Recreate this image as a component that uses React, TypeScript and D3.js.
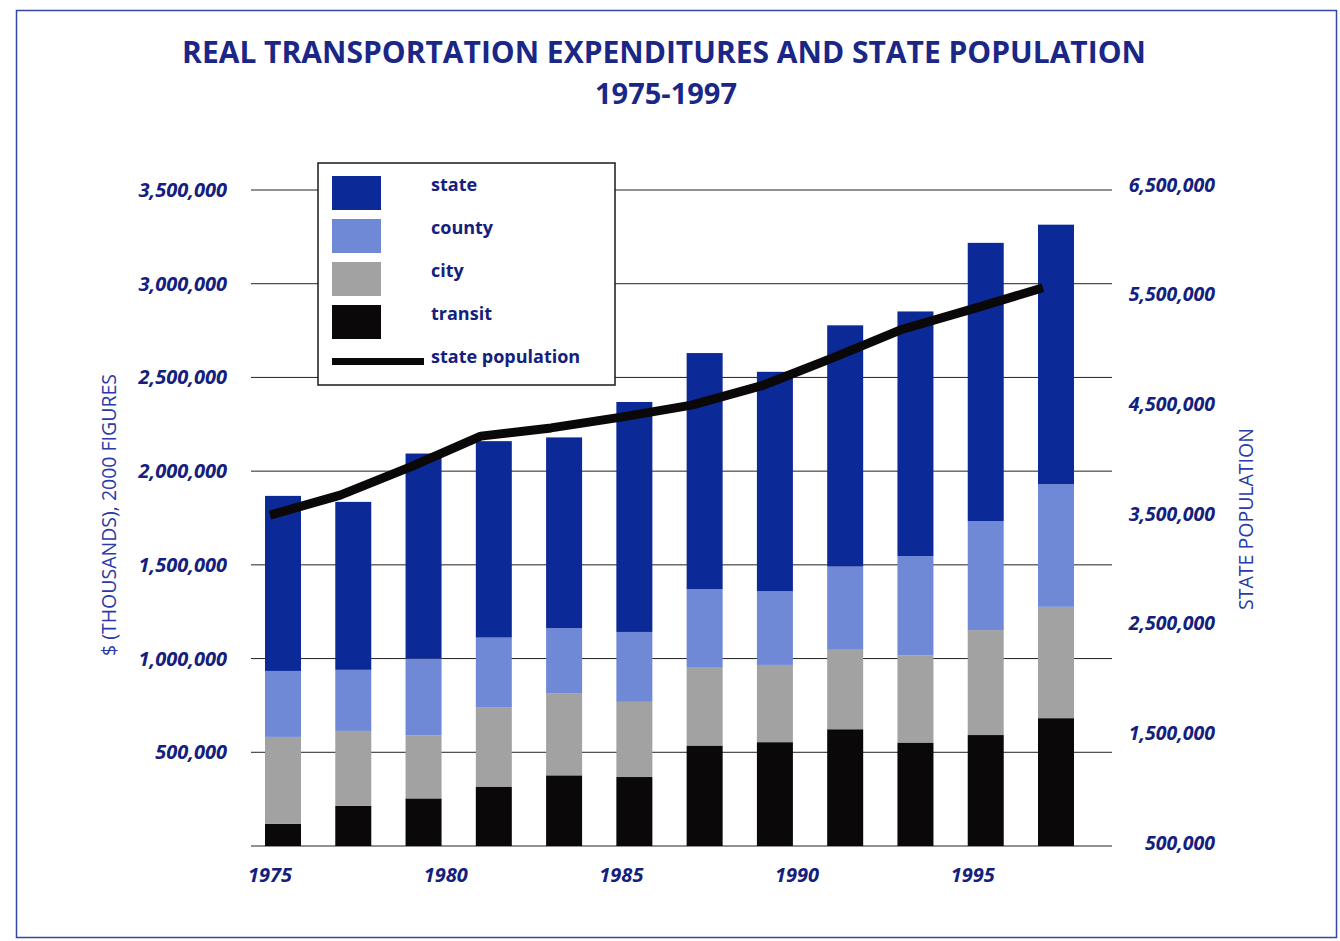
import React, { useEffect, useRef } from 'react';
import * as d3 from 'd3';

// expenditure data, $ thousands (2000 figures)
const years = [1975, 1977, 1979, 1981, 1983, 1985, 1987, 1989, 1991, 1993, 1995, 1997];
const transit = [119000, 214000, 254000, 317000, 377000, 368000, 536000, 554000, 623000, 552000, 592000, 682000];
const city = [463000, 400000, 337000, 421000, 436000, 401000, 415000, 412000, 424000, 464000, 560000, 594000];
const county = [352000, 326000, 409000, 374000, 349000, 373000, 419000, 393000, 444000, 531000, 581000, 654000];
const state = [934000, 896000, 1094000, 1048000, 1018000, 1227000, 1260000, 1171000, 1287000, 1305000, 1485000, 1385000];
const population = [3490000, 3672000, 3930000, 4210000, 4285000, 4383000, 4493000, 4670000, 4921000, 5185000, 5370000, 5563000];

const leftTicks = [0, 500000, 1000000, 1500000, 2000000, 2500000, 3000000, 3500000];
const rightTicks = [500000, 1500000, 2500000, 3500000, 4500000, 5500000, 6500000];
const yearTicks = [1975, 1980, 1985, 1990, 1995];

const seriesKeys = ['transit', 'city', 'county', 'state'];
const legendItems = ['state', 'county', 'city', 'transit'];
const colors: Record<string, string> = {
  state: '#0b2a98',
  county: '#7089d6',
  city: '#a2a2a2',
  transit: '#0a0808',
};

const NAVY = '#14207e';
const FONT = "'Open Sans', sans-serif";

export default function App() {
  const svgRef = useRef<SVGSVGElement>(null);

  useEffect(() => {
    if (!svgRef.current) return;
    const svg = d3.select(svgRef.current);
    svg.selectAll('*').remove();

    const x = d3.scaleLinear().domain([1975, 1997]).range([270, 1043]);
    const y = d3.scaleLinear().domain([0, 3500000]).range([846, 190]);
    const yPop = d3.scaleLinear().domain([500000, 6500000]).range([843, 185]);
    const barW = 36;
    const barShift = 13;
    const fmt = d3.format(',');

    // frame
    svg.append('rect')
      .attr('x', 16.5).attr('y', 10.5)
      .attr('width', 1320).attr('height', 927)
      .attr('fill', 'white')
      .attr('stroke', '#3646a6')
      .attr('stroke-width', 1.5);

    // title
    svg.append('text')
      .attr('x', 664).attr('y', 63)
      .attr('text-anchor', 'middle')
      .attr('font-family', FONT).attr('font-weight', 700)
      .attr('font-size', 30).attr('fill', '#1a2786')
      .text('REAL TRANSPORTATION EXPENDITURES AND STATE POPULATION');
    svg.append('text')
      .attr('x', 666).attr('y', 104)
      .attr('text-anchor', 'middle')
      .attr('font-family', FONT).attr('font-weight', 700)
      .attr('font-size', 29).attr('fill', '#1a2786')
      .text('1975-1997');

    // gridlines
    svg.append('g').selectAll('line')
      .data(leftTicks)
      .enter().append('line')
      .attr('x1', 251).attr('x2', 1112)
      .attr('y1', d => y(d)).attr('y2', d => y(d))
      .attr('stroke', '#222').attr('stroke-width', 1);

    // left tick labels
    svg.append('g').selectAll('text')
      .data(leftTicks.filter(d => d > 0))
      .enter().append('text')
      .attr('x', 227).attr('y', d => y(d)).attr('dy', '0.35em')
      .attr('text-anchor', 'end')
      .attr('font-family', FONT).attr('font-weight', 700).attr('font-style', 'italic')
      .attr('font-size', 20).attr('fill', NAVY)
      .text(d => fmt(d));

    // right tick labels
    svg.append('g').selectAll('text')
      .data(rightTicks)
      .enter().append('text')
      .attr('x', 1215).attr('y', d => yPop(d)).attr('dy', '0.35em')
      .attr('text-anchor', 'end')
      .attr('font-family', FONT).attr('font-weight', 700).attr('font-style', 'italic')
      .attr('font-size', 19.5).attr('fill', NAVY)
      .text(d => fmt(d));

    // x labels
    svg.append('g').selectAll('text')
      .data(yearTicks)
      .enter().append('text')
      .attr('x', d => x(d)).attr('y', 882)
      .attr('text-anchor', 'middle')
      .attr('font-family', FONT).attr('font-weight', 700).attr('font-style', 'italic')
      .attr('font-size', 20).attr('fill', NAVY)
      .text(d => d);

    // axis titles
    svg.append('text')
      .attr('transform', 'translate(116,515) rotate(-90)')
      .attr('text-anchor', 'middle')
      .attr('font-family', FONT).attr('font-size', 19.5).attr('fill', '#2a3aa8')
      .text('$ (THOUSANDS), 2000 FIGURES');
    svg.append('text')
      .attr('transform', 'translate(1253,519) rotate(-90)')
      .attr('text-anchor', 'middle')
      .attr('font-family', FONT).attr('font-size', 19.5).attr('fill', '#2a3aa8')
      .text('STATE POPULATION');

    // stacked bars
    const table = years.map((yr, i) => ({
      year: yr,
      transit: transit[i],
      city: city[i],
      county: county[i],
      state: state[i],
    }));
    const stack = d3.stack<any>().keys(seriesKeys)(table);

    svg.append('g').selectAll('g')
      .data(stack)
      .enter().append('g')
      .attr('fill', d => colors[d.key])
      .selectAll('rect')
      .data(d => d)
      .enter().append('rect')
      .attr('x', (d: any) => x(d.data.year) + barShift - barW / 2)
      .attr('width', barW)
      .attr('y', d => y(d[1]))
      .attr('height', d => y(d[0]) - y(d[1]));

    // population line
    const line = d3.line<number>()
      .x((_, i) => x(years[i]))
      .y(d => yPop(d));
    svg.append('path')
      .datum(population)
      .attr('d', line)
      .attr('fill', 'none')
      .attr('stroke', '#0a0808')
      .attr('stroke-width', 9)
      .attr('stroke-linejoin', 'round');

    // legend
    const lg = svg.append('g');
    lg.append('rect')
      .attr('x', 318).attr('y', 163)
      .attr('width', 297).attr('height', 222)
      .attr('fill', 'white')
      .attr('stroke', '#1a1a1a').attr('stroke-width', 1.5);
    const ly = d3.scalePoint<string>().domain([...legendItems, 'state population']).range([185, 357]);
    legendItems.forEach(k => {
      lg.append('rect')
        .attr('x', 332).attr('y', ly(k)! - 9)
        .attr('width', 49).attr('height', 34)
        .attr('fill', colors[k]);
    });
    lg.append('rect')
      .attr('x', 332).attr('y', ly('state population')! + 1)
      .attr('width', 92).attr('height', 7)
      .attr('fill', '#0a0808');
    lg.selectAll('text.lt')
      .data(ly.domain())
      .enter().append('text')
      .attr('class', 'lt')
      .attr('x', 431).attr('y', d => ly(d)!).attr('dy', '0.35em')
      .attr('font-family', FONT).attr('font-weight', 700)
      .attr('font-size', 18).attr('fill', NAVY)
      .text(d => d);
  }, []);

  return (
    <div style={{ position: 'absolute', left: 0, top: 0, width: 1340, height: 941, background: 'white' }}>
      <svg ref={svgRef} width={1340} height={941} viewBox="0 0 1340 941"></svg>
    </div>
  );
}
